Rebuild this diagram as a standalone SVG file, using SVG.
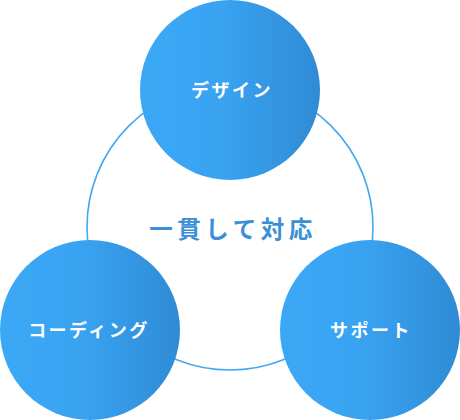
<svg xmlns="http://www.w3.org/2000/svg" width="460" height="420" viewBox="0 0 460 420">
<defs>
<linearGradient id="g" x1="0" y1="0" x2="1" y2="0">
<stop offset="0" stop-color="#3ba8f6"/>
<stop offset="0.45" stop-color="#39a3f2"/>
<stop offset="1" stop-color="#2f8bd4"/>
</linearGradient>
<style>
.node{fill:url(#g)}
.lbl{font-family:"Noto Sans CJK JP","Noto Sans",sans-serif;font-weight:bold;font-size:18px;fill:#fff;text-anchor:middle;letter-spacing:2.5px}
.ring{fill:none;stroke:#42a8f3;stroke-width:1.6}
.center{font-family:"Noto Sans CJK JP","Noto Sans",sans-serif;font-weight:bold;font-size:23.5px;fill:#3a8fd6;text-anchor:middle;letter-spacing:4.5px}
</style>
</defs>
<g id="connectors">
<circle class="ring" cx="230" cy="227" r="143"/>
</g>
<text class="center" x="233" y="238">一貫して対応</text>
<g id="node-design">
<circle class="node" cx="230" cy="90" r="90"/>
<text class="lbl" x="232" y="97">デザイン</text>
</g>
<g id="node-coding">
<circle class="node" cx="90" cy="330" r="90"/>
<text class="lbl" x="89" y="337">コーディング</text>
</g>
<g id="node-support">
<circle class="node" cx="370" cy="330" r="90"/>
<text class="lbl" x="371" y="337">サポート</text>
</g>
</svg>
